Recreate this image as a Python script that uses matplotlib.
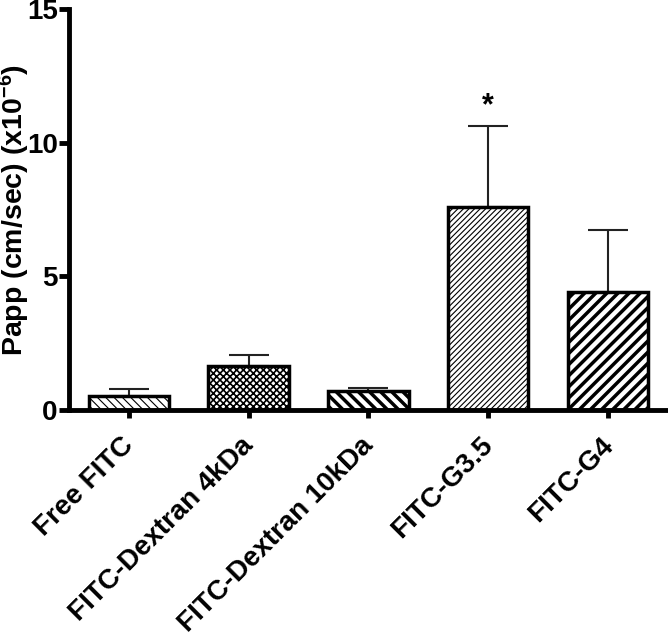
import matplotlib
matplotlib.use("Agg")
import matplotlib.pyplot as plt
import matplotlib.transforms as mtransforms
import numpy as np

plt.rcParams['font.family'] = ['Liberation Sans', 'DejaVu Sans']
plt.rcParams['font.weight'] = 'bold'
plt.rcParams['mathtext.fontset'] = 'custom'
plt.rcParams['mathtext.rm'] = 'Liberation Sans:bold'
plt.rcParams['mathtext.bf'] = 'Liberation Sans:bold'
plt.rcParams['mathtext.it'] = 'Liberation Sans:bold'
plt.rcParams['mathtext.default'] = 'bf'

categories = ["Free FITC", "FITC-Dextran 4kDa", "FITC-Dextran 10kDa", "FITC-G3.5", "FITC-G4"]
means = [0.52, 1.65, 0.72, 7.6, 4.42]
errors = [0.28, 0.42, 0.12, 3.02, 2.33]
significance = ["", "", "", "*", ""]
y_ticks = [0, 5, 10, 15]

hatches = ['\\\\\\\\', 'xxxxx', '\\\\\\', '//////', '///']
hatch_lw = [0.8, 1.2, 2.5, 0.8, 2.5]

fig = plt.figure(figsize=(6.68, 6.35), dpi=100)
ax = fig.add_axes([0.103, 0.354, 0.897, 0.632])

x = np.arange(len(categories))
for i in range(len(categories)):
    with plt.rc_context({'hatch.linewidth': hatch_lw[i]}):
        ax.bar(x[i], means[i], width=0.67, color='white', edgecolor='black',
               linewidth=2.5, hatch=hatches[i], zorder=2)
    ax.errorbar(x[i], means[i], yerr=[[0], [errors[i]]], fmt='none', ecolor='#222222',
                elinewidth=1.5, capsize=14.5, capthick=1.5, zorder=1)
    if significance[i]:
        ax.text(x[i], means[i] + errors[i] + 0.75, significance[i], ha='center', va='center',
                fontsize=22, fontweight='bold')

ax.set_xlim(-0.5, 4.5)
ax.set_ylim(0, 15)
ax.set_yticks(y_ticks)
ax.set_yticklabels([str(t) for t in y_ticks], fontsize=20, fontweight='bold')
ax.set_xticks(x)
ax.set_xticklabels(categories, rotation=45, ha='right', rotation_mode='anchor',
                   fontsize=20, fontweight='bold')
ax.set_ylabel(r"Papp (cm/sec) (x10$^{-6}$)", fontsize=20.5, fontweight='bold')
ax.yaxis.set_label_coords(-0.062, 0.5)

for s in ['top', 'right']:
    ax.spines[s].set_visible(False)
for s in ['left', 'bottom']:
    ax.spines[s].set_linewidth(3.5)
ax.tick_params(axis='y', width=3.5, length=7, pad=1)
ax.tick_params(axis='x', width=3.5, length=6, pad=10)

offset = mtransforms.ScaledTranslation(-8 / 100, 0, fig.dpi_scale_trans)
for lab in ax.get_xticklabels():
    lab.set_transform(lab.get_transform() + offset)

fig.savefig("out.png", dpi=100)
